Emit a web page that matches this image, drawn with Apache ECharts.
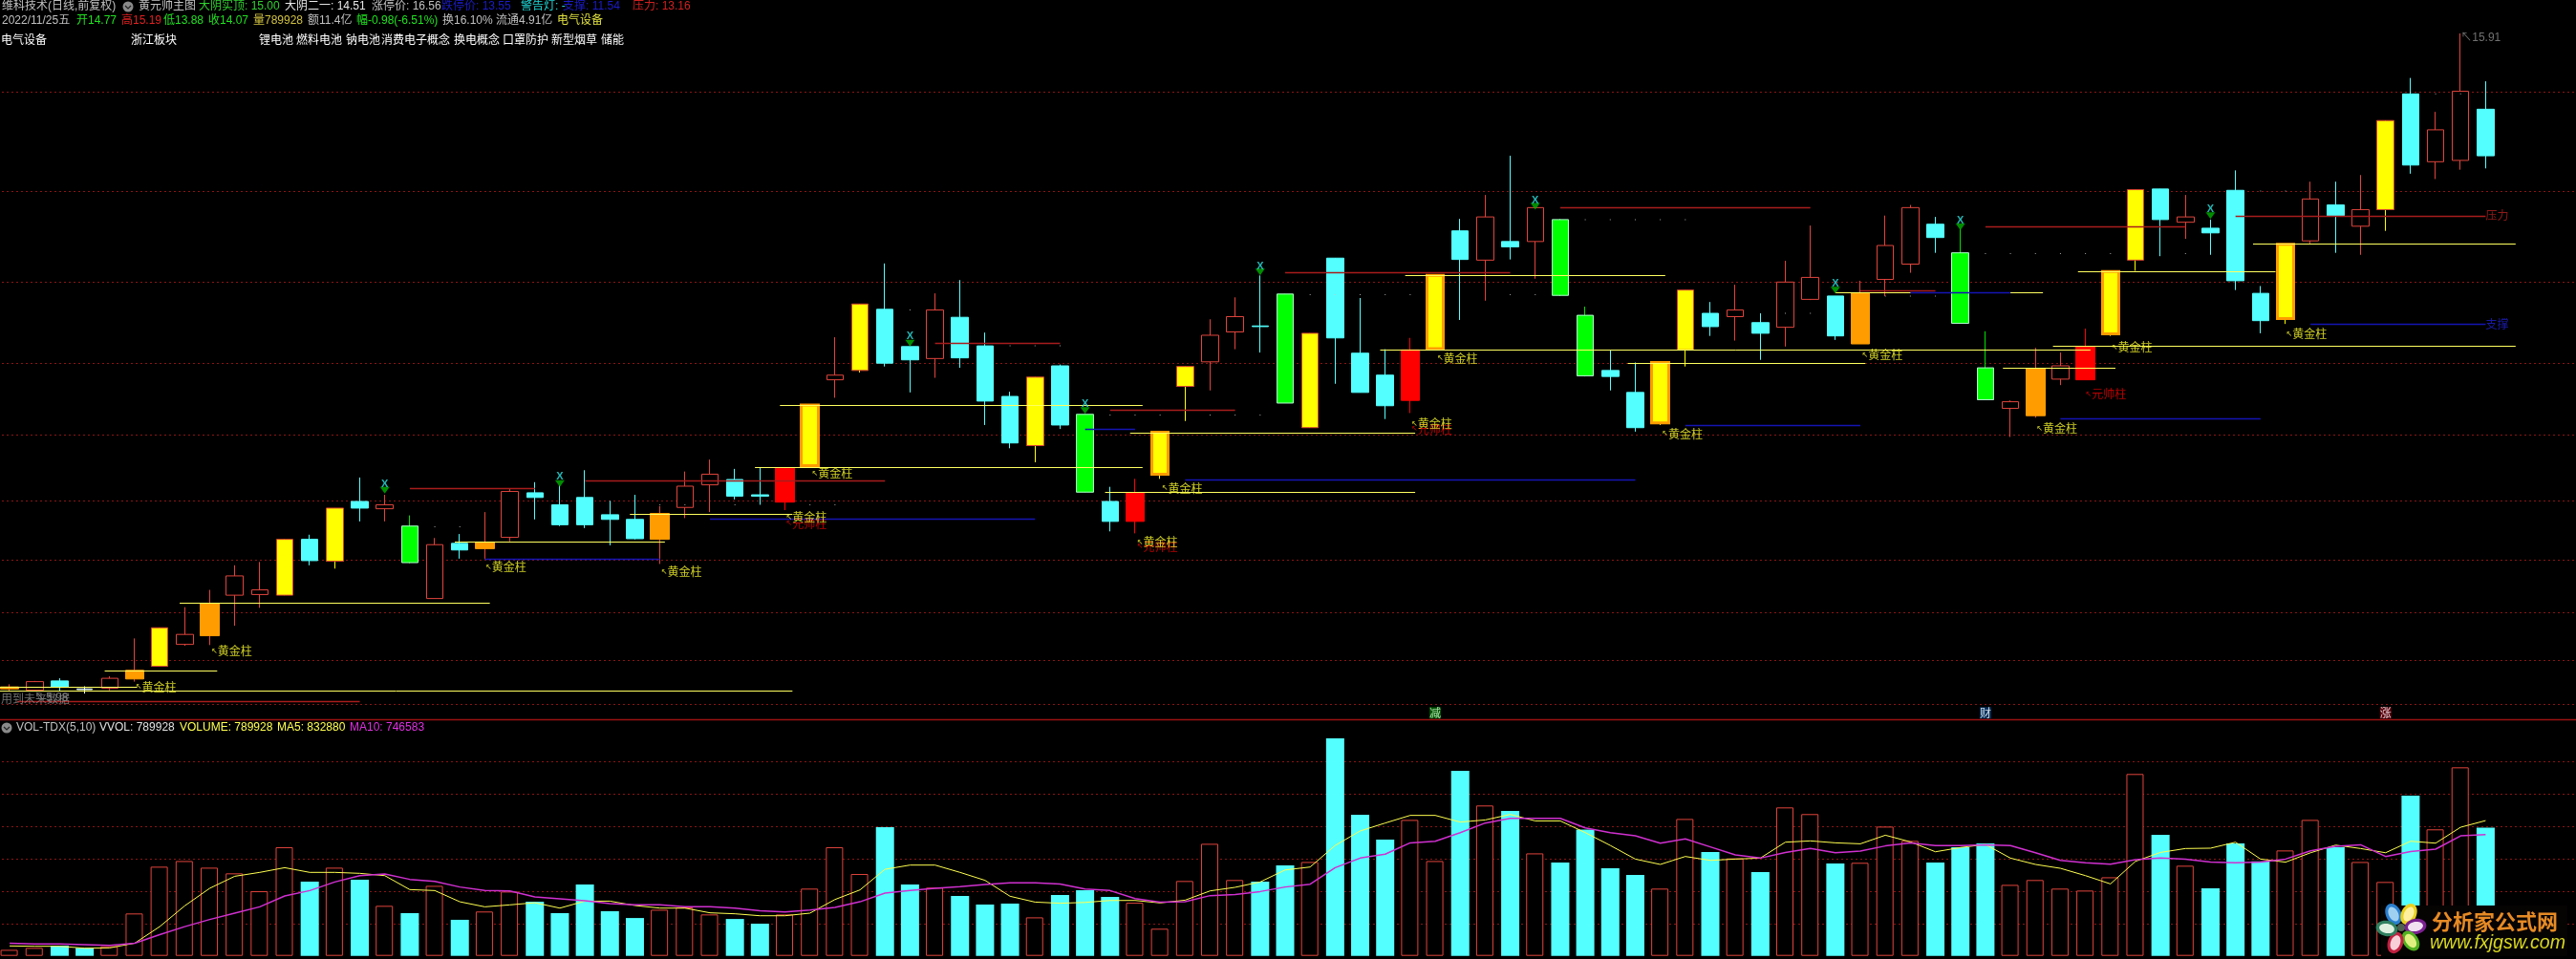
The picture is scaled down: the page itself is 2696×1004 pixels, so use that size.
<!DOCTYPE html>
<html><head><meta charset="utf-8">
<style>html,body{margin:0;padding:0;background:#000}#c{width:2696px;height:1004px}</style>
<script src="https://cdn.jsdelivr.net/npm/echarts@6/dist/echarts.min.js"></script>
</head><body><div id="c"></div>
<script>
// ---------- data ----------
const opens=[6.05,6.03,6.17,6.05,6.06,6.20,6.39,6.72,6.85,7.46,7.47,7.46,8.30,7.97,8.87,8.76,8.50,7.41,8.24,8.16,8.33,9.00,8.82,8.93,8.67,8.60,8.30,8.78,9.12,9.20,8.97,8.86,9.41,10.70,10.84,11.76,11.20,11.02,11.64,11.21,10.45,9.71,10.91,10.18,8.87,8.57,9.28,10.60,10.97,11.42,11.51,11.99,9.98,12.53,11.10,10.77,10.39,11.17,12.94,12.50,12.78,12.78,13.11,11.67,10.84,10.51,10.05,11.15,11.70,11.65,11.56,11.49,11.91,11.96,11.24,12.21,12.44,13.04,12.61,10.88,10.27,10.16,10.71,10.70,11.39,12.50,13.57,13.07,12.98,13.55,12.00,11.62,12.79,13.33,13.01,13.26,15.00,13.98,14.00,14.77];
const closes=[6.08,6.16,6.08,6.04,6.21,6.33,6.97,6.87,7.34,7.75,7.54,8.30,7.98,8.77,8.77,8.82,7.95,8.22,8.14,8.26,9.02,8.93,8.52,8.52,8.60,8.31,8.69,9.10,9.28,8.95,8.95,9.37,10.32,10.77,11.84,10.95,11.00,11.75,11.03,10.38,9.75,10.74,10.02,9.01,8.57,9.00,9.91,10.90,11.37,11.65,11.50,10.35,11.40,11.33,10.51,10.31,11.15,12.27,12.51,13.15,12.70,13.29,11.97,10.76,10.75,9.98,10.96,12.05,11.50,11.75,11.40,12.17,12.24,11.36,12.01,12.72,13.29,12.84,11.55,10.40,10.37,10.87,10.91,11.20,12.33,13.56,13.11,13.15,12.91,12.19,11.59,12.74,13.42,13.17,13.26,14.60,13.93,14.46,15.04,14.07];
const highs=[6.12,6.17,6.21,6.09,6.24,6.81,6.97,7.28,7.54,7.91,7.96,8.30,8.37,8.77,9.23,8.97,8.66,8.32,8.38,8.71,9.06,9.16,9.11,9.34,8.88,8.97,8.80,9.32,9.50,9.36,9.38,9.38,10.32,11.34,11.84,12.45,11.20,12.00,12.20,11.41,10.52,10.74,10.93,10.18,9.09,9.21,9.91,10.90,11.61,11.94,12.27,11.99,11.40,12.53,11.93,11.16,11.33,12.27,13.12,13.48,14.07,13.29,13.12,11.80,11.15,10.96,10.96,12.05,11.87,12.13,11.70,12.49,13.02,11.96,12.19,13.17,13.33,13.15,12.97,11.43,10.39,11.18,11.11,11.47,12.33,13.56,13.57,13.48,13.11,13.85,12.11,12.74,13.68,13.68,13.78,14.60,15.24,14.73,15.91,15.19];
const lows=[6.02,6.03,6.02,5.98,6.03,6.16,6.39,6.70,6.71,7.00,7.27,7.46,7.91,7.86,8.57,8.57,7.94,7.41,8.01,8.00,8.27,8.60,8.50,8.47,8.21,8.30,7.93,8.62,8.71,8.90,8.82,8.74,9.41,10.43,10.81,10.90,10.51,10.73,10.88,10.02,9.67,9.46,9.96,9.01,8.42,8.39,9.21,10.08,10.54,11.16,11.11,10.35,9.98,10.64,10.51,10.11,10.20,11.17,11.60,11.89,12.51,12.22,11.96,10.75,10.54,9.92,10.02,10.90,11.36,11.29,11.00,11.20,11.90,11.30,11.24,11.96,12.31,12.61,11.55,10.40,9.84,10.13,10.62,10.70,11.36,12.34,12.56,12.82,12.58,12.05,11.40,11.54,12.75,12.61,12.58,12.94,13.80,13.72,13.86,13.88];
// r hollow red, c cyan, w white doji, o orange, y yellow, Y yellow on orange, R solid red, g green
const kinds="o r c w r o y r o r r y c y c r g r c o r c c c c c o r r c c R Y r y c c r c c c y c g c R Y y r r c g y c c c R Y c r c r g g c c Y y c r c r r c o r r c g g r o r R Y y c r c c c Y r c r y c r r c".split(" ");
// volumes, thousands
const volumes=[37,49,63,49,59,261,549,584,543,508,398,669,457,543,469,308,263,431,222,273,396,333,263,439,275,233,284,298,255,227,198,255,414,669,504,792,439,420,369,316,322,237,375,404,363,327,167,461,690,467,457,557,578,1339,869,716,837,584,1139,926,892,631,575,777,539,498,414,843,639,600,516,914,873,569,573,796,708,575,669,692,437,467,414,402,484,1120,745,555,416,692,582,649,837,669,578,455,986,779,1161,790];
const ma5=[61,59,59,47,49,78,180,308,416,490,514,543,514,514,508,494,408,402,333,302,314,327,294,337,337,310,294,294,265,259,247,247,263,347,406,533,559,559,514,465,367,331,324,329,341,341,326,343,400,422,455,529,547,680,769,818,865,865,824,837,871,831,831,759,680,596,563,612,588,596,602,700,708,696,690,743,702,641,667,686,602,563,539,494,443,582,637,661,663,700,596,577,635,682,661,635,706,694,792,833];
const ma10=[78,73,73,69,65,78,131,180,224,263,302,369,402,455,494,504,471,459,424,402,400,363,351,339,322,314,314,302,302,294,278,271,282,298,333,386,402,416,426,439,449,449,443,412,402,353,331,333,371,377,396,424,441,543,602,626,696,706,759,818,847,847,847,788,759,739,694,720,671,622,602,637,661,635,645,677,696,679,679,684,679,635,588,573,565,592,602,596,577,573,577,596,647,675,684,612,643,657,739,747];
const categories=opens.map((_,i)=>String(i+1));
const blankSlots=["","","",""];
// horizontal levels [from bar, to bar, price]
const yellowLevels=[[-0.4,5.1,6.08],[-0.4,31.3,6.02],[3.8,8.3,6.33],[6.8,19.2,7.34],[17.8,26.2,8.26],[24.8,31.3,8.69],[29.8,45.3,9.38],[30.8,45.3,10.32],[44.8,56.2,9.91],[43.8,56.2,9.01],[55.8,66.2,12.27],[54.8,83.2,11.15],[64.7,74.2,10.96],[73,81.3,12.01],[82.7,90.6,12.33],[89.7,100.2,12.75],[81.7,100.2,11.21],[79.7,84.2,10.88]];
const redLevels=[[0.3,14,5.87],[16,21,9.07],[23,35,9.18],[37,42,11.26],[44,49,10.25],[51,60,12.32],[62,72,13.29],[74,77,12.04],[79,87,13.01],[89,99,13.16]];
const blueLevels=[[19,26,8.01],[28,41,8.61],[43,45,9.96],[47,65,9.20],[67,74,10.02],[76,80,12.01],[82,90,10.12],[92,99,11.54]];
const priceGrid=[15.04,13.54,12.18,10.96,9.87,8.88,8.00,7.20,6.48,5.83];
const volumeGrid=[200,400,600,800,1000,1200];
// small dots [bar, price]
const dotPoints=[[17,8.49],[18,8.49],[26,8.82],[27,8.82],[29,8.82],[32,8.82],[33,8.82],[36,11.75],[40,11.21],[41,11.21],[42,11.21],[44,10.17],[45,10.17],[46,10.17],[48,10.17],[49,10.17],[50,10.17],[52,11.98],[53,11.98],[54,11.98],[55,11.98],[56,11.98],[60,11.98],[61,11.98],[63,13.11],[64,13.11],[65,13.11],[66,13.11],[67,13.11],[71,11.70],[72,11.70],[75,11.96],[76,11.96],[77,11.96],[79,12.60],[80,12.60],[81,12.60],[82,12.60],[83,12.60],[84,12.60],[87,12.60],[90,13.54],[91,13.54],[97,15.00],[98,15.00]];
// signals [bar, X price, arrow price]
const signals=[[15,9.13,9.04],[22,9.25,9.14],[36,11.35,11.25],[43,10.33,10.24],[50,12.40,12.32],[61,13.40,13.31],[73,12.14,12.05],[78,13.10,13.00],[88,13.26,13.17]];
const goldTag="黄金柱", marshalTag="元帅柱";
// tags [bar, price]
const goldTags=[[5.03,6.08],[8.06,6.62],[19.02,7.88],[26.04,7.81],[31.04,8.63],[32.07,9.29],[45.07,8.26],[46.06,9.07],[56.04,10.04],[57.07,11.02],[66.06,9.89],[74.06,11.07],[81.04,9.97],[84.04,11.19],[91.02,11.39]];
const marshalTags=[[31.04,8.54],[45.07,8.19],[56.04,9.96],[83.0,10.48]];
const sideTags=[[99,13.17,"压力","#b02020"],[99,11.54,"支撑","#2020d0"]];
const greyTags=[[-0.35,5.88,"用到未来数据"],[0.99,5.92,"↖5.98"],[98,15.84,"↖15.91"]];
const flagTags=[[57,5.69,"减","#006400","#d0ffd0"],[79,5.69,"财","#003a70","#ffffff"],[95,5.69,"涨","#700010","#ffffff"]];
const row1=["维科技术(日线,前复权)","黄元帅主图","大阴实顶: 15.00","大阴二一: 14.51","涨停价: 16.56","跌停价: 13.55","警告灯: -","支撑: 11.54","压力: 13.16"];
const row2=["2022/11/25五","开14.77","高15.19","低13.88","收14.07","量789928","额11.4亿","幅-0.98(-6.51%)","换16.10%","流通4.91亿","电气设备"];
const row3=["电气设备","浙江板块","锂电池","燃料电池","钠电池","消费电子概念","换电概念","口罩防护","新型烟草","储能"];
const volRow=["VOL-TDX(5,10)","VVOL: 789928","VOLUME: 789928","MA5: 832880","MA10: 746583"];
const logoTexts=["分析家公式网","www.fxjgsw.com"];

// ---------- layout and style ----------
const row1X=[2,145,208,298,389,462,545,589,662], row1C=["#c0c0c0","#c0c0c0","#30d030","#e8e8e8","#c0c0c0","#1c1cc8","#20d8d8","#1c1cc8","#d02020"];
const row2X=[2,80,127,171,218,265,322,373,463,519,583], row2C=["#c0c0c0","#20e020","#e02020","#20e020","#20e020","#d0c040","#c0c0c0","#20e020","#c0c0c0","#c0c0c0","#e0e040"];
const row3X=[1,137,271,310,362,399,475,526,577,629];
const volRowX=[17,104,188,290,366], volRowC=["#c0c0c0","#e0e0e0","#ffff50","#ffff50","#e030e0"];
const FONT="'Liberation Sans','Noto Sans CJK SC',sans-serif";
const CJK="'Noto Sans CJK SC',sans-serif";
const RED="#e0443c", CYAN="#54ffff";
const styleOf={
 r:{wick:RED,fill:"#000",border:RED,w:18,bw:1},
 c:{wick:CYAN,fill:CYAN,border:CYAN,w:18,bw:1},
 w:{wick:"#e8ffff",fill:"#e8ffff",border:"#e8ffff",w:16,bw:1},
 o:{wick:RED,fill:"#ff9c00",border:"#ff9c00",w:20,bw:1},
 y:{wick:"#ffff00",fill:"#ffff00",border:"#d84030",w:18,bw:1},
 Y:{wick:"#ffff00",fill:"#ffff00",border:"#ff9c00",w:18,bw:3},
 R:{wick:"#ff0000",fill:"#ff0000",border:"#ff0000",w:20,bw:1},
 g:{wick:"#00e000",fill:"#00ff00",border:"#b0ffd0",w:18,bw:1}
};
const BAND=26.175, SLOTS=categories.length+blankSlots.length;
const allCats=categories.concat(blankSlots.map((s,i)=>"x"+i));
// y(p) in the main panel: price 15.91 at 35 px, 69.6 px per unit
const MAIN_H=752, PRICE_MAX=15.91+35/69.6, PRICE_MIN=15.91-(752-35)/69.6;

function levels(name,rows,color,width,dash,xi,yi,z){
 return {type:'custom',name,xAxisIndex:xi,yAxisIndex:yi,coordinateSystem:'cartesian2d',z,silent:true,clip:false,
  data:rows,encode:{x:[0,1],y:2},
  renderItem(p,api){
   const a=api.coord([api.value(0),api.value(2)]), b=api.coord([api.value(1),api.value(2)]);
   const y=Math.round(a[1])+.5;
   return {type:'line',shape:{x1:a[0],y1:y,x2:b[0],y2:y},style:{stroke:color,lineWidth:width,lineDash:dash||null,fill:null}};
  }};
}
const series=[];
const span=[-0.5,SLOTS-0.5];
series.push(levels('priceGrid',priceGrid.map(p=>[span[0],span[1],p]),'#8a1414',1,[2,3],1,0,1));
series.push(levels('volumeGrid',volumeGrid.map(p=>[span[0],span[1],p]),'#8a1414',1,[2,3],3,1,1));
Object.keys(styleOf).forEach(k=>{
 const s=styleOf[k], idx=opens.map((_,i)=>i).filter(i=>kinds[i]===k);
 const common={type:'candlestick',xAxisIndex:0,yAxisIndex:0,encode:{x:0,y:[1,2,3,4]},silent:true};
 series.push(Object.assign({},common,{name:k+'wick',z:2,barWidth:1,
  data:idx.map(i=>[i,opens[i],closes[i],lows[i],highs[i]]),
  itemStyle:{color:s.wick,color0:s.wick,borderColor:s.wick,borderColor0:s.wick,borderColorDoji:s.wick,borderWidth:1}}));
 series.push(Object.assign({},common,{name:k+'body',z:3,barWidth:s.w,
  data:idx.map(i=>[i,opens[i],closes[i],Math.min(opens[i],closes[i]),Math.max(opens[i],closes[i])]),
  itemStyle:{color:s.fill,color0:s.fill,borderColor:s.border,borderColor0:s.border,borderColorDoji:s.border,borderWidth:s.bw}}));
});
series.push(levels('yellowLevels',yellowLevels,'#ffff60',1,null,1,0,4));
series.push(levels('redLevels',redLevels,'#a81c1c',1.4,null,1,0,4));
series.push(levels('blueLevels',blueLevels,'#1414b4',1.4,null,1,0,4));
const scatter=(name,data,extra)=>Object.assign({type:'scatter',name,xAxisIndex:1,yAxisIndex:0,data,silent:true,z:5},extra);
series.push(scatter('dots',dotPoints,{symbol:'rect',symbolSize:1,itemStyle:{color:'#c8c8c8'}}));
series.push(scatter('signalArrow',signals.map(s=>[s[0],s[2]]),{symbol:'triangle',symbolRotate:180,symbolSize:[10,7],itemStyle:{color:'#00b000'}}));
series.push(scatter('signalX',signals.map(s=>[s[0],s[1]]),{symbolSize:0,label:{show:true,position:'inside',formatter:'X',color:'#30e0e0',fontFamily:FONT,fontWeight:'bold',fontSize:11}}));
const tagLabel=(txt,color)=>({show:true,position:'right',distance:0,color,fontFamily:CJK,fontSize:12,
  formatter:()=>'{a|↖}{b|'+txt+'}',rich:{a:{fontSize:8,color,fontFamily:"DejaVu Sans"},b:{fontSize:12,color,fontFamily:CJK}}});
series.push(scatter('marshal',marshalTags,{symbolSize:0,z:6,label:tagLabel(marshalTag,'#e80000')}));
series.push(scatter('gold',goldTags,{symbolSize:0,z:7,label:tagLabel(goldTag,'#ffff30')}));
series.push(scatter('side',sideTags.map(t=>({value:t,label:{color:t[3]}})),{symbolSize:0,z:6,label:{show:true,position:'right',distance:0,fontFamily:CJK,fontSize:12,
  formatter:p=>p.value[2]}}));
series.push(scatter('grey',greyTags,{symbolSize:0,z:6,label:{show:true,position:'right',distance:0,color:'#8c8c8c',fontFamily:FONT,fontSize:12,formatter:p=>p.value[2]}}));
series.push(scatter('flags',flagTags.map(t=>({value:t,label:{backgroundColor:t[3],color:t[4]}})),{symbolSize:0,z:6,
  label:{show:true,position:'inside',fontFamily:CJK,fontSize:12,lineHeight:12,padding:[0,0],formatter:p=>p.value[2]}}));
const isUp=i=>closes[i]>opens[i];
series.push({type:'bar',name:'volUp',xAxisIndex:2,yAxisIndex:1,barWidth:18,barGap:'-100%',z:2,silent:true,
 data:volumes.map((v,i)=>isUp(i)?v:'-'),itemStyle:{color:'#000',borderColor:RED,borderWidth:1}});
series.push({type:'bar',name:'volDown',xAxisIndex:2,yAxisIndex:1,barWidth:19,barGap:'-100%',z:2,silent:true,
 data:volumes.map((v,i)=>isUp(i)?'-':v),itemStyle:{color:CYAN}});
series.push({type:'line',name:'MA5',xAxisIndex:2,yAxisIndex:1,data:ma5,symbol:'none',z:4,silent:true,lineStyle:{color:'#ffff50',width:1}});
series.push({type:'line',name:'MA10',xAxisIndex:2,yAxisIndex:1,data:ma10,symbol:'none',z:4,silent:true,lineStyle:{color:'#d030d0',width:1.5}});

const txt=(text,x,y,fill,font)=>({type:'text',z:50,silent:true,x,y,style:{text,fill,font:font||('12px '+FONT),textVerticalAlign:'middle'}});
const elements=[];
row1.forEach((t,i)=>elements.push(txt(t,row1X[i],7,row1C[i])));
row2.forEach((t,i)=>elements.push(txt(t,row2X[i],22,row2C[i])));
row3.forEach((t,i)=>elements.push(txt(t,row3X[i],43,'#ffffff')));
volRow.forEach((t,i)=>elements.push(txt(t,volRowX[i],762,volRowC[i])));
[[134,7],[7,762]].forEach(c=>{
 elements.push({type:'circle',z:50,silent:true,shape:{cx:c[0],cy:c[1],r:5.5},style:{fill:'#8a8a8a'}});
 elements.push({type:'polyline',z:51,silent:true,shape:{points:[[c[0]-3,c[1]-1],[c[0],c[1]+2],[c[0]+3,c[1]-1]]},style:{stroke:'#222',lineWidth:1.2,fill:null}});
});
elements.push({type:'line',z:40,silent:true,shape:{x1:0,y1:753.5,x2:2696,y2:753.5},style:{stroke:'#9a1212',lineWidth:1.5}});
// watermark
elements.push({type:'rect',z:60,silent:true,shape:{x:2492,y:948,width:195,height:53},style:{fill:'#060303'}});
const petals=[[-8,-14,-25,'#2a7fd0','#a0d0f0'],[8,-14,25,'#e8d020','#fff0a0'],[15,-1,80,'#7a2090','#f0e0f0'],[10,14,145,'#50b020','#e0f080'],[-6,16,20,'#c02040','#f8d0d8'],[-15,1,-80,'#308060','#e0f0e0']];
petals.forEach(p=>{
 elements.push({type:'ellipse',z:61,silent:true,x:2513+p[0],y:971+p[1],rotation:-p[2]*Math.PI/180,shape:{cx:0,cy:0,rx:8,ry:11.5},style:{fill:p[3]}});
 elements.push({type:'ellipse',z:62,silent:true,x:2513+p[0],y:971+p[1],rotation:-p[2]*Math.PI/180,shape:{cx:0,cy:0,rx:5,ry:8},style:{fill:p[4]}});
});
elements.push({type:'circle',z:63,silent:true,shape:{cx:2513,cy:971,r:4},style:{fill:'#506050'}});
elements.push(Object.assign(txt(logoTexts[0],2545,965,'#e68a24',"bold 22px 'Noto Sans CJK SC'"),{z:61}));
elements.push(Object.assign(txt(logoTexts[1],2543,988,'#d8d820',"italic 19.5px 'Liberation Sans'"),{z:61}));

const chart=echarts.init(document.getElementById('c'),null,{renderer:'canvas',devicePixelRatio:1,width:2696,height:1004});
const W=BAND*SLOTS;
chart.setOption({
 animation:false,backgroundColor:'#000',tooltip:{show:false},legend:{show:false},
 grid:[{left:-3,top:0,width:W,height:MAIN_H,outerBoundsMode:'none'},{left:-3,top:753.7,width:W,height:247,outerBoundsMode:'none'}],
 xAxis:[
  {type:'category',gridIndex:0,data:allCats,show:false},
  {type:'value',gridIndex:0,min:span[0],max:span[1],show:false},
  {type:'category',gridIndex:1,data:allCats,show:false},
  {type:'value',gridIndex:1,min:span[0],max:span[1],show:false}
 ],
 yAxis:[
  {type:'value',gridIndex:0,min:PRICE_MIN,max:PRICE_MAX,show:false,splitLine:{show:false}},
  {type:'value',gridIndex:1,min:0,max:1453,show:false,splitLine:{show:false}}
 ],
 series,
 graphic:{elements}
});
</script></body></html>
